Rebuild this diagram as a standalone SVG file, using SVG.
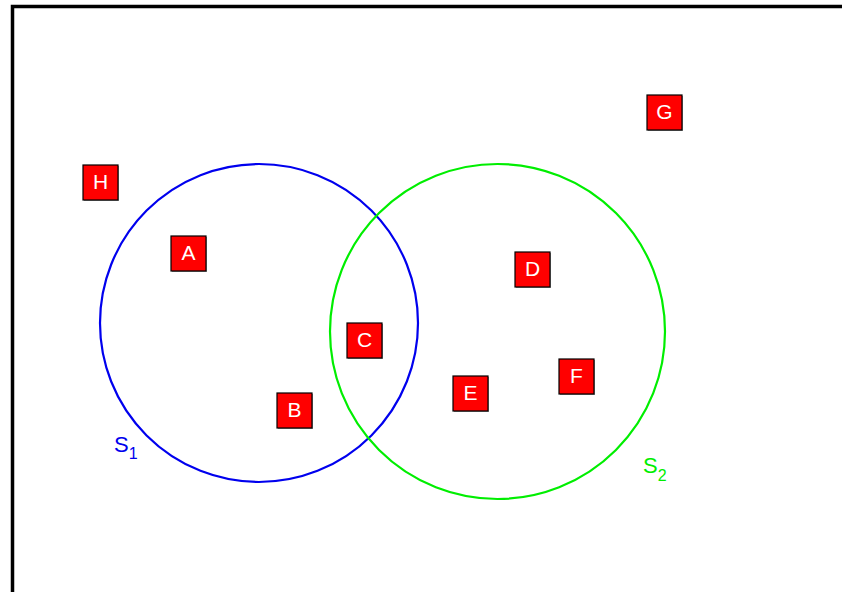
<svg xmlns="http://www.w3.org/2000/svg" width="842" height="592" viewBox="0 0 842 592">
<style>
.box rect.b{fill:#ff0000;stroke:#000;stroke-width:1.2}
.box rect.s{fill:#999}
.box text{font-family:"Liberation Sans",Arial,sans-serif;font-size:21px;fill:#fff;text-anchor:middle}
.lbl{font-family:"Liberation Sans",Arial,sans-serif;font-size:22px}
.sub{font-size:16px}
</style>
<rect width="842" height="592" fill="#fff"/>
<path d="M12.5,592 V6.5 H842" fill="none" stroke="#000" stroke-width="3.5"/>
<g id="connectors">
<circle cx="259" cy="323" r="159" fill="none" stroke="#0000ee" stroke-width="2.2"/>
<circle cx="497.5" cy="331.5" r="167.5" fill="none" stroke="#00ee00" stroke-width="2.2"/>
</g>
<g id="S1"><text class="lbl" x="114" y="452" fill="#0000ee">S<tspan class="sub" dy="7">1</tspan></text></g>
<g id="S2"><text class="lbl" x="643" y="473" fill="#00ee00">S<tspan class="sub" dy="8">2</tspan></text></g>
<g id="H" class="box"><rect class="s" x="84" y="166" width="35" height="35"/><rect class="b" x="83" y="165" width="35" height="35"/><text x="100.5" y="188.5">H</text></g>
<g id="A" class="box"><rect class="s" x="172" y="237" width="35" height="35"/><rect class="b" x="171" y="236" width="35" height="35"/><text x="188.5" y="259.5">A</text></g>
<g id="B" class="box"><rect class="s" x="278" y="394" width="35" height="35"/><rect class="b" x="277" y="393" width="35" height="35"/><text x="294.5" y="416.5">B</text></g>
<g id="C" class="box"><rect class="s" x="348" y="324" width="35" height="35"/><rect class="b" x="347" y="323" width="35" height="35"/><text x="364.5" y="346.5">C</text></g>
<g id="D" class="box"><rect class="s" x="516" y="253" width="35" height="35"/><rect class="b" x="515" y="252" width="35" height="35"/><text x="532.5" y="275.5">D</text></g>
<g id="E" class="box"><rect class="s" x="454" y="377" width="35" height="35"/><rect class="b" x="453" y="376" width="35" height="35"/><text x="470.5" y="399.5">E</text></g>
<g id="F" class="box"><rect class="s" x="560" y="360" width="35" height="35"/><rect class="b" x="559" y="359" width="35" height="35"/><text x="576.5" y="382.5">F</text></g>
<g id="G" class="box"><rect class="s" x="648" y="96" width="35" height="35"/><rect class="b" x="647" y="95" width="35" height="35"/><text x="664.5" y="118.5">G</text></g>
</svg>
